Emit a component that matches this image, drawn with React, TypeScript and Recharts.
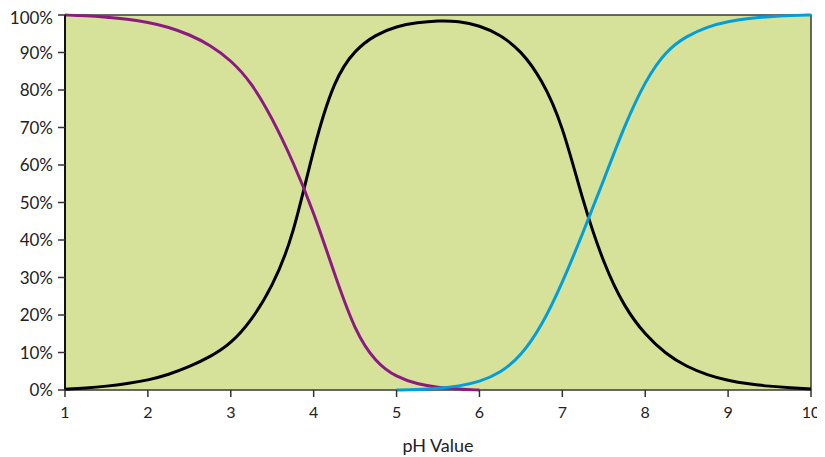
import React from "react";
import { LineChart, Line, XAxis, YAxis, ReferenceArea } from "recharts";

// pH grid, 0.25 steps
const phValues = [
  1, 1.25, 1.5, 1.75, 2, 2.25, 2.5, 2.75, 3, 3.25, 3.5, 3.75, 4, 4.25, 4.5, 4.75, 5,
  5.25, 5.5, 5.75, 6, 6.25, 6.5, 6.75, 7, 7.25, 7.5, 7.75, 8, 8.25, 8.5, 8.75, 9,
  9.25, 9.5, 9.75, 10,
];

// purple curve (fully protonated), drawn 1 – 6
const purpleShare: (number | null)[] = [
  100, 99.8, 99.4, 98.9, 98.1, 96.8, 94.8, 92, 88, 82, 72.5, 61, 47.5, 31, 15.5, 7.3, 3.4,
  1.6, 0.7, 0.2, 0, null, null, null, null, null, null, null, null, null, null, null, null,
  null, null, null, null,
];

// black curve (intermediate form)
const blackShare: (number | null)[] = [
  0.2, 0.5, 1, 1.7, 2.6, 4.1, 6.2, 8.8, 12.3, 18.5, 27.5, 40.5, 65, 83, 90.8, 94.8, 97,
  98, 98.5, 98.4, 97.2, 94.8, 90.5, 83, 71, 50, 33.5, 22, 14.7, 9.6, 6.2, 4, 2.5,
  1.6, 1, 0.6, 0.3,
];

// blue curve (fully deprotonated), drawn 5 – 10
const blueShare: (number | null)[] = [
  null, null, null, null, null, null, null, null, null, null, null, null, null, null, null, null, 0,
  0.1, 0.4, 1, 2.2, 4.5, 9, 17, 28.5, 42, 56, 70.5, 82.5, 90.5, 94.4, 96.9, 98.3,
  99.1, 99.6, 99.85, 100,
];

const xTicks = [1, 2, 3, 4, 5, 6, 7, 8, 9, 10];
const yTicks = [0, 10, 20, 30, 40, 50, 60, 70, 80, 90, 100];

const data = phValues.map((ph, i) => ({
  ph,
  purple: purpleShare[i],
  black: blackShare[i],
  blue: blueShare[i],
}));

const font = "Lato, 'Open Sans', sans-serif";

export default function App() {
  return (
    <LineChart width={817} height={449} data={data} margin={{ top: 7, right: 14, left: 0, bottom: 0 }}>
      <ReferenceArea
        x1={1}
        x2={10}
        y1={0}
        y2={100}
        fill="#d6e19a"
        fillOpacity={1}
        stroke="#3a3a3a"
        strokeWidth={1.5}
      />
      <XAxis
        dataKey="ph"
        type="number"
        domain={[1, 10]}
        ticks={xTicks}
        axisLine={false}
        tickLine={{ stroke: "#333", strokeWidth: 1.5 }}
        tickSize={7}
        tickMargin={10}
        height={67}
        tick={{ fill: "#222", fontSize: 16, fontFamily: font }}
        label={{
          value: "pH Value",
          position: "insideBottom",
          offset: 5,
          fill: "#222",
          fontSize: 18,
          fontFamily: font,
        }}
      />
      <YAxis
        type="number"
        domain={[0, 100]}
        ticks={yTicks}
        width={57}
        axisLine={{ stroke: "#111", strokeWidth: 2 }}
        tickLine={{ stroke: "#333", strokeWidth: 1.5 }}
        tickSize={7}
        tickMargin={5}
        tickFormatter={(v: number) => `${v}%`}
        tick={{ fill: "#222", fontSize: 17, fontFamily: font }}
      />
      <Line
        dataKey="black"
        type="basis"
        stroke="#000000"
        strokeWidth={3}
        dot={false}
        activeDot={false}
        isAnimationActive={false}
      />
      <Line
        dataKey="purple"
        type="basis"
        stroke="#8c1a80"
        strokeWidth={3}
        dot={false}
        activeDot={false}
        isAnimationActive={false}
      />
      <Line
        dataKey="blue"
        type="basis"
        stroke="#009edb"
        strokeWidth={3}
        dot={false}
        activeDot={false}
        isAnimationActive={false}
      />
    </LineChart>
  );
}
